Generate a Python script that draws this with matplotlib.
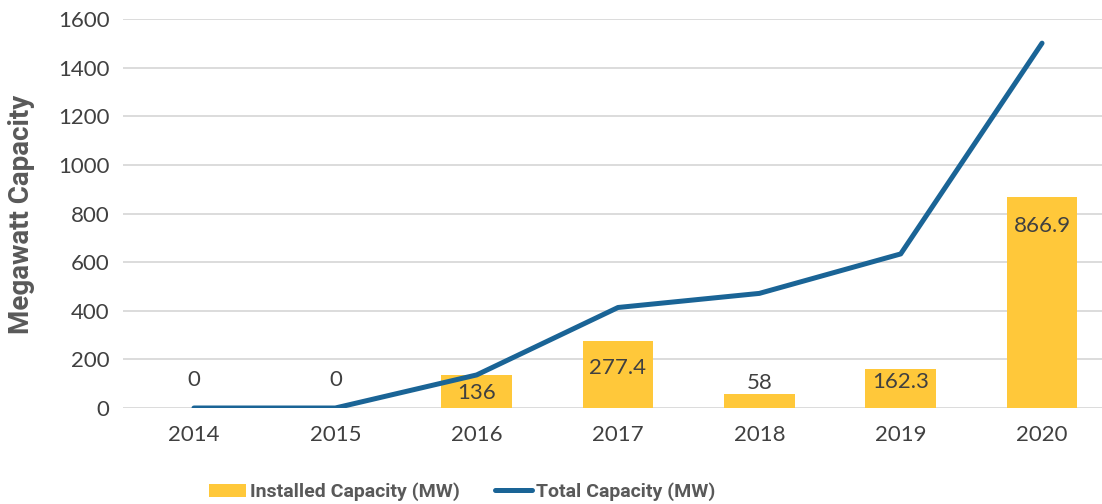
import matplotlib
matplotlib.use("Agg")
import matplotlib.pyplot as plt
from matplotlib.patches import Patch
from matplotlib.lines import Line2D
import numpy as np

years = ["2014", "2015", "2016", "2017", "2018", "2019", "2020"]
installed = [0, 0, 136, 277.4, 58, 162.3, 866.9]
total = [0, 0, 136, 413.4, 471.4, 633.7, 1500.6]
label_texts = ["0", "0", "136", "277.4", "58", "162.3", "866.9"]
yticks = [0, 200, 400, 600, 800, 1000, 1200, 1400, 1600]

# label offsets in points relative to bar top (negative = below)
label_offsets = [20, 20, -13, -20, 8, -10, -21]

BAR = "#FFC83A"
LINE = "#1A6496"
TXT = "#404040"
AX = "#595959"
GRID = "#D9D9D9"

plt.rcParams['font.family'] = ['Lato', 'DejaVu Sans']
BOLD = ['Roboto', 'DejaVu Sans']

fig = plt.figure(figsize=(11.02, 5.04), dpi=100)
ax = fig.add_axes([123.3/1102, (504-408)/504, (1112.7-123.3)/1102, (408-19)/504])

x = np.arange(len(years))
ax.bar(x, installed, width=0.5, color=BAR, zorder=2)
ax.plot(x, total, color=LINE, lw=3.6, solid_capstyle='round', solid_joinstyle='round', zorder=3)

for xi, v, t, off in zip(x, installed, label_texts, label_offsets):
    ax.annotate(t, (xi, v), xytext=(0, off), textcoords='offset points',
                ha='center', va='center', fontsize=16, color=TXT, zorder=4)

ax.set_xlim(-0.5, len(years) - 0.5)
ax.set_ylim(0, 1600)
ax.set_yticks(yticks)
ax.set_yticklabels([str(v) for v in yticks])
ax.set_xticks(x)
ax.set_xticklabels(years)
ax.tick_params(axis='both', length=0, labelsize=16, labelcolor=TXT)
ax.tick_params(axis='y', pad=10)
ax.tick_params(axis='x', pad=12)
ax.yaxis.grid(True, color=GRID, lw=1.3, zorder=0)
ax.set_axisbelow(True)
for s in ax.spines.values():
    s.set_visible(False)

fig.text(22/1102, 1 - 214/504, "Megawatt Capacity", rotation=90, ha='center', va='center',
         fontsize=20, fontweight='bold', family=BOLD, color=AX)

handles = [Patch(facecolor=BAR, edgecolor='none'),
           Line2D([0], [0], color=LINE, lw=3.6, solid_capstyle='round')]
leg = fig.legend(handles, ["Installed Capacity (MW)", "Total Capacity (MW)"],
                 loc='center', bbox_to_anchor=(462/1102, 1 - 492/504), ncol=2,
                 frameon=False, handlelength=1.9, handleheight=0.7, handletextpad=0.2,
                 columnspacing=1.8, borderpad=0, prop={'weight': 'bold', 'size': 14, 'family': BOLD})
for t in leg.get_texts():
    t.set_color(AX)

fig.savefig("out.png", dpi=100)
